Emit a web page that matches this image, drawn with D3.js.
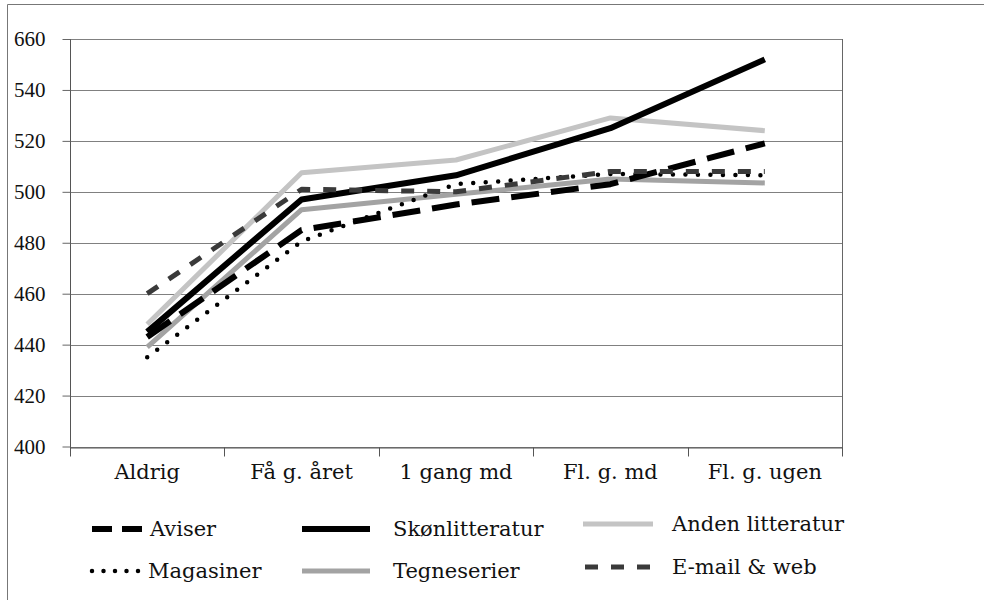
<!DOCTYPE html>
<html>
<head>
<meta charset="utf-8">
<script src="https://cdn.jsdelivr.net/npm/d3@7"></script>
<style>
  html, body { margin: 0; padding: 0; background: #fff; }
  svg { display: block; }
</style>
</head>
<body>
<svg id="chart" width="984" height="600"></svg>
<script>
// ---- data ----
const categories = ["Aldrig", "Få g. året", "1 gang md", "Fl. g. md", "Fl. g. ugen"];
const aviser          = [443, 485, 495, 503, 519];
const magasiner       = [435, 480.5, 503, 507, 506.5];
const skonlitteratur  = [445, 497, 506.5, 525, 552];
const tegneserier     = [439, 493, 499, 505, 503.5];
const andenLitteratur = [448, 507.5, 512.5, 529, 524];
const emailWeb        = [460, 501, 500, 508, 508];
const yTickValues = [400, 420, 440, 460, 480, 500, 520, 540, 560];
const yTickLabels = ["400", "420", "440", "460", "480", "500", "520", "540", "660"];
const seriesNames = ["Aviser", "Skønlitteratur", "Anden litteratur", "Magasiner", "Tegneserier", "E-mail & web"];

// ---- styles (kept separate from data) ----
const styles = {
  "Aviser":           { stroke: "#000", width: 6, dash: "28,12", cap: "butt" },
  "Magasiner":        { stroke: "#000", width: 4.5, dash: "0,12.5", cap: "round" },
  "Skønlitteratur":   { stroke: "#000", width: 6, dash: null, cap: "butt" },
  "Tegneserier":      { stroke: "#a3a3a3", width: 5, dash: null, cap: "butt" },
  "Anden litteratur": { stroke: "#c4c4c4", width: 5, dash: null, cap: "butt" },
  "E-mail & web":     { stroke: "#3a3a3a", width: 5, dash: "13,13", cap: "butt" }
};
const valuesByName = {
  "Aviser": aviser, "Magasiner": magasiner, "Skønlitteratur": skonlitteratur,
  "Tegneserier": tegneserier, "Anden litteratur": andenLitteratur, "E-mail & web": emailWeb
};
const drawOrder = ["Tegneserier", "Anden litteratur", "Aviser", "Magasiner", "Skønlitteratur", "E-mail & web"];

const svg = d3.select("#chart");
const textFont = "\"DejaVu Serif\", \"Liberation Serif\", serif";
const numFont = "\"Liberation Serif\", \"DejaVu Serif\", serif";

// outer frame (top + left)
svg.append("path").attr("d", "M7.5,600 V4.5 H984")
  .attr("fill", "none").attr("stroke", "#777").attr("stroke-width", 1);

const plot = { left: 70, right: 842, top: 39, bottom: 446.5 };
const x = d3.scaleBand().domain(categories).range([plot.left, plot.right]).padding(0);
const y = d3.scaleLinear().domain([400, 560]).range([plot.bottom, plot.top]);

// gridlines
svg.append("g").selectAll("line").data(yTickValues).join("line")
  .attr("x1", plot.left).attr("x2", plot.right)
  .attr("y1", d => Math.round(y(d)) + 0.5).attr("y2", d => Math.round(y(d)) + 0.5)
  .attr("stroke", "#808080").attr("stroke-width", 1);

// right border of plot
svg.append("line")
  .attr("x1", plot.right + 0.5).attr("x2", plot.right + 0.5)
  .attr("y1", y(560)).attr("y2", plot.bottom + 9)
  .attr("stroke", "#666").attr("stroke-width", 1);

// y axis
const yAxis = d3.axisLeft(y).tickValues(yTickValues)
  .tickFormat((d, i) => yTickLabels[i]).tickSize(8).tickPadding(17);
const gy = svg.append("g").attr("transform", `translate(${plot.left + 0.5},0)`).call(yAxis);
gy.select(".domain").attr("d", `M0,${y(560)}V${plot.bottom + 10}`).attr("stroke", "#555");
gy.selectAll(".tick line").attr("stroke", "#666");
gy.selectAll(".tick text")
  .style("font-family", numFont).style("font-size", "21px").attr("fill", "#111");

// x axis
const xAxis = d3.axisBottom(x).tickSize(0).tickPadding(17);
const gx = svg.append("g").attr("transform", `translate(0,${Math.round(plot.bottom) + 0.5})`).call(xAxis);
gx.select(".domain").attr("stroke", "#555");
gx.selectAll(".tick text")
  .style("font-family", textFont).style("font-size", "21px").attr("fill", "#111");
// tick marks at category boundaries
const boundaries = categories.map(c => x(c)).concat([x(categories[categories.length - 1]) + x.bandwidth()]);
gx.append("g").selectAll("line").data(boundaries.slice(1)).join("line")
  .attr("x1", d => Math.round(d) + 0.5).attr("x2", d => Math.round(d) + 0.5)
  .attr("y1", 0).attr("y2", 9).attr("stroke", "#555");

// lines
const line = d3.line()
  .x((d, i) => x(categories[i]) + x.bandwidth() / 2)
  .y(d => y(d));

svg.append("g").selectAll("path").data(drawOrder).join("path")
  .attr("d", name => line(valuesByName[name]))
  .attr("fill", "none")
  .attr("stroke", name => styles[name].stroke)
  .attr("stroke-width", name => styles[name].width)
  .attr("stroke-dasharray", name => styles[name].dash)
  .attr("stroke-linecap", name => styles[name].cap)
  .attr("stroke-linejoin", "round");

// legend
const legendPos = {
  "Aviser":           { x: 92, y: 529, len: 50, tx: 150 },
  "Magasiner":        { x: 92, y: 571, len: 50, tx: 148 },
  "Skønlitteratur":   { x: 302, y: 529, len: 68, tx: 393 },
  "Tegneserier":      { x: 302, y: 571, len: 68, tx: 393 },
  "Anden litteratur": { x: 583, y: 524, len: 70, tx: 672 },
  "E-mail & web":     { x: 585, y: 567, len: 70, tx: 672 }
};
const lg = svg.append("g").selectAll("g").data(seriesNames).join("g");
lg.append("line")
  .attr("x1", n => legendPos[n].x).attr("x2", n => legendPos[n].x + legendPos[n].len)
  .attr("y1", n => legendPos[n].y).attr("y2", n => legendPos[n].y)
  .attr("stroke", n => styles[n].stroke)
  .attr("stroke-width", n => styles[n].width)
  .attr("stroke-dasharray", n => n === "Aviser" ? "20,10" : (n === "Magasiner" ? "0,11.5" : styles[n].dash))
  .attr("stroke-linecap", n => styles[n].cap);
lg.append("text")
  .attr("x", n => legendPos[n].tx).attr("y", n => legendPos[n].y)
  .attr("dy", "0.35em")
  .style("font-family", textFont).style("font-size", "21px").attr("fill", "#111")
  .text(n => n);
</script>
</body>
</html>
